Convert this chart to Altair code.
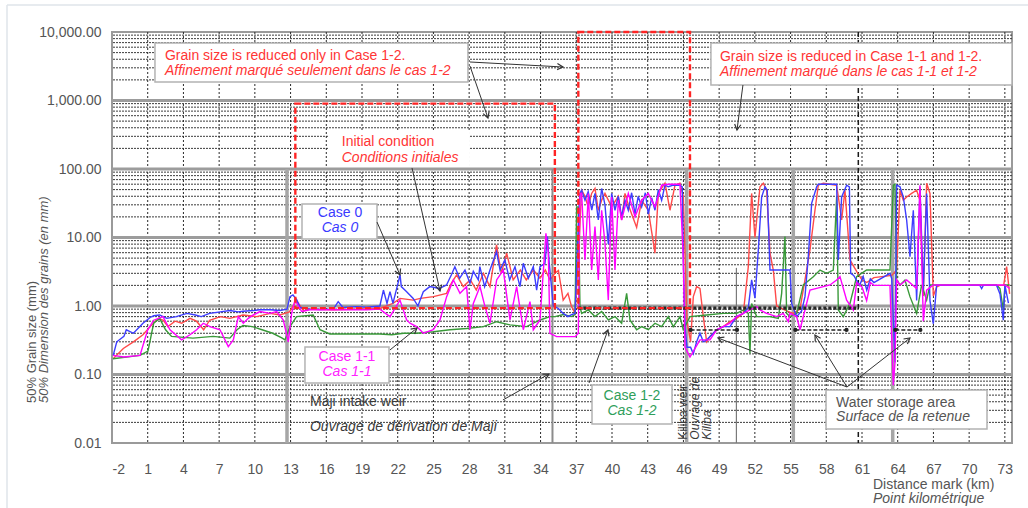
import math
import altair as alt
import pandas as pd

# ---------------------------------------------------------------- layout
PLOT_W, PLOT_H = 900, 411
KM_MIN, KM_MAX = -2.0, 73.6
D_MIN, D_MAX = 0.01, 10000.0
FONT = "Liberation Sans"

LINE_RED, LINE_BLUE, LINE_MAGENTA, LINE_GREEN = "#ff4a4a", "#3d3dff", "#ff00ff", "#399939"
TXT_RED, TXT_BLUE, TXT_MAGENTA, TXT_GREEN, TXT_GRAY = "#ff3535", "#3a3aff", "#ff22ff", "#2f9e5a", "#555555"

# ---------------------------------------------------------------- series: (distance mark km, 50% grain size mm)
initial = [(-1.9, 0.17), (-1.05, 0.24), (-0.2, 0.30), (0.6, 0.38), (1.2, 0.50), (1.9, 0.66), (2.3, 0.62),
           (2.7, 0.50), (3.3, 0.60), (3.85, 0.56), (4.55, 0.66), (5.1, 0.60), (5.7, 0.45), (6.2, 0.62),
           (7.1, 0.70), (7.9, 0.66), (9.0, 0.74), (10.15, 0.70), (11.3, 0.78), (12.1, 0.74), (12.9, 0.82),
           (13.5, 1.2), (14.1, 0.85), (14.6, 0.90), (16.6, 0.88), (18.5, 0.90), (20.5, 0.92), (21.6, 1.09),
           (22.2, 1.29), (23.3, 1.22), (23.9, 1.29), (25.0, 1.37), (26.1, 1.53), (26.5, 2.14), (26.95, 2.84),
           (27.5, 1.92), (28.1, 2.4), (28.6, 1.71), (29.2, 3.0), (29.75, 1.92), (30.3, 7.8), (30.7, 3.0),
           (31.15, 5.9), (31.7, 2.4), (32.3, 3.35), (32.8, 2.4), (33.4, 3.35), (33.95, 2.54), (34.4, 3.35),
           (34.8, 2.4), (35.2, 3.0), (35.5, 3.3), (35.9, 1.22), (36.3, 1.53), (36.6, 0.98), (36.9, 0.78),
           (37.17, 5.0), (37.45, 49), (37.73, 40), (38.0, 28), (38.29, 44), (38.57, 52), (38.85, 25),
           (39.13, 35), (39.41, 44), (39.97, 28), (40.53, 40), (40.81, 18), (41.09, 44), (41.37, 30),
           (41.65, 22), (42.07, 14), (42.49, 35), (43.05, 25), (43.61, 5.9), (43.89, 44), (44.45, 62),
           (44.87, 25), (45.29, 58), (45.71, 62), (45.99, 40), (46.3, 0.6), (46.6, 0.3), (46.83, 1.37),
           (47.11, 1.92), (47.39, 1.81), (47.67, 0.70), (47.95, 0.30), (48.23, 0.36), (48.79, 0.45),
           (49.35, 0.50), (49.91, 0.59), (50.47, 0.66), (51.03, 0.78), (51.45, 3.75), (51.73, 44),
           (52.01, 10), (52.43, 55), (52.71, 62), (52.99, 49), (53.27, 5.9), (53.55, 3.35), (53.83, 1.0),
           (54.67, 0.85), (55.23, 0.78), (55.79, 0.9), (56.35, 3.35), (56.63, 6.6), (57.05, 25), (57.33, 58),
           (57.75, 62), (58.87, 58), (59.29, 18), (59.57, 49), (59.99, 4.7), (60.55, 3.2), (61.0, 2.4),
           (61.4, 2.2), (62.0, 2.6), (63.5, 2.8), (63.91, 3.35), (64.19, 49), (64.47, 35), (64.75, 39),
           (65.17, 44), (65.59, 49), (65.87, 35), (66.15, 1.4), (66.43, 62), (66.71, 44), (66.99, 1.4),
           (67.27, 1.9), (67.55, 2.0), (72.9, 2.0), (73.15, 3.75), (73.4, 1.5)]

case_1_2 = [(-1.92, 0.17), (0.35, 0.19), (1.02, 0.22), (1.5, 0.56), (2.0, 0.66), (2.5, 0.45), (3.0, 0.36),
            (4.8, 0.34), (6.5, 0.36), (7.9, 0.34), (8.5, 0.45), (9.0, 0.52), (9.8, 0.50), (10.6, 0.45),
            (11.5, 0.40), (12.3, 0.34), (12.53, 0.32), (12.95, 0.50), (13.5, 0.70), (14.9, 0.74), (15.47, 0.45),
            (16.3, 0.39), (17.5, 0.39), (19.4, 0.39), (20.5, 0.39), (21.5, 0.38), (22.5, 0.40), (23.59, 0.40),
            (24.99, 0.42), (26.39, 0.45), (27.79, 0.47), (29.19, 0.50), (30.31, 0.59), (31.43, 0.53),
            (32.83, 0.50), (33.95, 0.625), (34.79, 0.70), (35.21, 0.70), (35.91, 0.75), (36.61, 0.70),
            (36.89, 0.75), (37.03, 28), (37.17, 28), (37.31, 0.98), (37.45, 0.78), (38.01, 0.875), (38.57, 0.70),
            (39.13, 0.83), (39.69, 0.625), (40.25, 0.70), (40.81, 0.56), (41.23, 1.53), (41.51, 0.625),
            (42.07, 0.45), (42.49, 0.50), (43.05, 0.45), (43.61, 0.56), (44.17, 0.50), (44.73, 0.70),
            (45.15, 0.50), (45.71, 0.70), (45.99, 0.45), (46.55, 0.70), (47.95, 0.74), (49.35, 0.78),
            (50.47, 0.78), (51.03, 0.875), (51.45, 0.78), (51.59, 0.204), (51.73, 1.09), (52.15, 0.70),
            (53.27, 0.70), (53.97, 0.66), (54.25, 1.53), (54.53, 10.3), (54.67, 0.78), (54.95, 0.70),
            (55.51, 0.78), (56.07, 2.03), (56.91, 2.68), (57.47, 3.35), (58.03, 3.0), (58.59, 3.35),
            (58.87, 39), (59.01, 0.875), (59.43, 0.70), (59.99, 1.09), (60.55, 2.68), (61.39, 3.35),
            (63.35, 3.35), (63.63, 58), (63.77, 60), (63.91, 2.4), (64.19, 2.03), (64.61, 2.4), (65.03, 1.37),
            (65.59, 0.78), (66.01, 2.03), (66.43, 1.22), (66.71, 2.03), (67.27, 2.03), (72.31, 2.03),
            (72.59, 1.8), (72.87, 0.875), (73.01, 2.03), (73.4, 2.03)]

case_0 = [(-1.9, 0.19), (-1.6, 0.30), (-1.0, 0.36), (-0.8, 0.45), (-0.2, 0.40), (0.6, 0.56), (1.2, 0.68),
          (1.5, 0.72), (2.0, 0.74), (2.6, 0.66), (3.4, 0.70), (4.3, 0.78), (5.0, 0.74), (5.5, 0.70),
          (6.2, 0.78), (7.1, 0.82), (7.9, 0.86), (8.6, 0.82), (9.0, 0.84), (9.9, 0.86), (10.4, 0.88),
          (11.3, 0.88), (12.1, 0.86), (12.7, 0.90), (12.95, 1.37), (13.2, 1.45), (13.5, 1.25), (13.8, 0.95),
          (14.6, 0.90), (15.5, 0.89), (16.6, 0.90), (17.0, 1.16), (17.4, 0.95), (18.5, 0.98), (19.4, 0.96),
          (20.5, 1.0), (20.8, 1.71), (21.1, 1.09), (21.35, 1.62), (21.6, 1.09), (22.2, 2.84), (22.3, 1.92),
          (22.75, 1.62), (23.3, 1.29), (23.7, 1.0), (24.15, 1.62), (24.7, 1.92), (25.5, 1.80), (26.1, 2.03),
          (26.5, 2.84), (26.8, 3.75), (27.2, 2.54), (27.65, 3.35), (28.07, 2.14), (28.35, 3.2), (28.77, 2.4),
          (28.9, 3.75), (29.3, 1.92), (29.75, 3.35), (30.3, 6.2), (30.6, 3.35), (31.0, 4.7), (31.4, 2.4),
          (31.85, 3.75), (32.27, 1.92), (32.55, 4.2), (32.97, 2.54), (33.39, 3.75), (33.67, 1.71),
          (33.95, 3.75), (34.37, 4.2), (34.57, 10.3), (34.73, 4.2), (35.07, 1.0), (35.5, 0.92), (35.9, 0.78),
          (36.3, 0.70), (36.6, 0.75), (36.9, 0.78), (37.1, 8.0), (37.3, 44), (37.45, 49), (37.73, 35),
          (38.0, 46.7), (38.3, 25), (38.57, 44), (38.85, 18), (39.13, 52), (39.41, 30), (39.69, 8),
          (39.97, 44), (40.25, 25), (40.53, 40), (40.81, 20), (41.09, 35), (41.37, 25), (41.65, 45),
          (41.93, 22), (42.2, 40), (42.49, 28), (42.8, 45), (43.05, 22), (43.33, 38), (43.61, 25),
          (43.89, 50), (44.17, 35), (44.45, 58), (44.73, 55), (45.15, 58), (45.71, 58), (45.9, 55),
          (46.0, 4.0), (46.13, 0.5), (46.3, 0.25), (46.6, 0.25), (46.83, 0.20), (47.11, 0.30), (47.39, 0.40),
          (47.67, 0.30), (47.95, 0.32), (48.23, 0.36), (48.79, 0.45), (49.35, 0.50), (49.91, 0.50),
          (50.47, 0.70), (51.03, 0.78), (51.45, 0.95), (51.73, 2.4), (52.01, 1.3), (52.29, 6.6), (52.57, 39),
          (52.85, 55), (53.04, 49), (53.27, 3.35), (54.95, 3.35), (55.09, 1.09), (55.51, 0.70), (55.93, 0.85),
          (56.21, 1.37), (56.49, 5.25), (56.77, 31.5), (57.19, 55), (57.33, 60), (58.87, 60), (59.01, 4.7),
          (59.29, 39), (59.71, 58), (59.94, 55), (60.05, 3.0), (60.3, 2.8), (60.8, 2.0), (61.1, 2.7),
          (61.4, 1.7), (61.7, 2.5), (62.0, 2.2), (63.35, 3.0), (63.5, 2.5), (63.77, 0.15), (63.91, 58),
          (64.19, 55), (64.47, 39), (64.75, 18), (65.03, 5.25), (65.31, 25), (65.59, 1.2), (65.87, 55),
          (66.15, 1.7), (66.43, 44), (66.71, 1.2), (66.99, 0.55), (67.27, 2.0), (70.9, 2.0), (71.05, 1.8),
          (71.19, 2.0), (72.31, 2.0), (72.59, 1.5), (72.87, 0.62), (73.01, 2.0), (73.3, 1.1)]

case_1_1 = [(-1.92, 0.19), (-1.0, 0.18), (0.35, 0.19), (1.0, 0.45), (1.5, 0.62), (2.28, 0.70), (2.87, 0.45),
            (3.85, 0.32), (4.55, 0.38), (5.11, 0.45), (5.67, 0.56), (6.23, 0.50), (7.07, 0.45), (7.77, 0.255),
            (8.19, 0.32), (8.61, 0.70), (9.03, 0.56), (9.45, 0.66), (9.87, 0.74), (10.43, 0.83), (11.27, 0.78),
            (11.83, 0.83), (12.39, 0.625), (12.81, 0.30), (13.09, 0.78), (13.37, 1.22), (13.93, 0.83),
            (14.63, 0.88), (16.6, 0.88), (19.4, 0.88), (20.5, 0.90), (21.35, 0.70), (22.19, 1.22),
            (22.75, 0.625), (23.03, 0.56), (23.59, 0.50), (23.87, 0.45), (24.15, 0.40), (24.99, 0.45),
            (25.55, 0.625), (26.11, 1.37), (26.67, 2.40), (27.23, 1.53), (27.79, 1.92), (28.07, 0.45),
            (28.35, 1.09), (28.91, 1.92), (29.33, 0.98), (29.75, 0.56), (30.31, 2.40), (30.87, 3.35),
            (31.43, 0.625), (31.99, 1.92), (32.55, 0.45), (33.11, 1.16), (33.39, 0.45), (33.95, 0.625),
            (34.45, 11.5), (34.65, 5.9), (34.79, 0.40), (35.35, 0.357), (36.3, 0.357), (36.9, 0.357),
            (37.17, 0.40), (37.31, 44), (37.45, 44), (37.73, 4.7), (38.01, 44), (38.29, 3.35), (38.57, 14.4),
            (38.85, 2.4), (39.13, 25), (39.41, 8.2), (39.69, 1.22), (39.97, 39), (40.25, 3.35), (40.53, 35),
            (40.81, 18), (41.37, 44), (41.93, 20), (42.49, 35), (43.05, 44), (43.61, 28), (44.17, 58),
            (44.73, 60), (45.71, 60), (45.99, 4.7), (46.13, 0.25), (46.55, 0.18), (47.39, 0.32), (48.23, 0.32),
            (48.79, 0.45), (49.91, 0.56), (50.47, 0.70), (51.03, 0.78), (51.59, 0.875), (52.15, 0.98),
            (52.43, 0.875), (52.99, 0.78), (53.83, 0.70), (54.39, 0.78), (54.81, 0.59), (54.95, 0.78),
            (55.51, 0.70), (55.79, 0.45), (56.21, 0.875), (56.63, 1.71), (57.19, 1.81), (58.31, 2.03),
            (58.87, 2.40), (59.15, 2.68), (59.71, 1.22), (60.27, 0.875), (60.55, 2.2), (61.0, 1.9),
            (61.39, 1.2), (61.7, 2.2), (62.0, 2.0), (63.35, 2.0), (63.63, 0.07), (63.77, 0.15), (63.91, 2.4),
            (64.19, 2.03), (64.75, 2.4), (65.59, 1.8), (65.87, 58), (66.15, 0.6), (66.43, 1.7), (66.99, 2.03),
            (73.0, 2.03), (73.4, 1.8)]

# ---------------------------------------------------------------- axes and grid values
x_tick_values = list(range(-2, 74, 3))
x_grid_km = list(range(1, 74, 3))
y_decades = [0.01, 0.1, 1, 10, 100, 1000, 10000]
y_inner_decades = [0.1, 1, 10, 100, 1000]
y_minor = [k * 10.0 ** e for e in range(-2, 4) for k in range(2, 10)]

# structures drawn as vertical bars: km, bottom, top, width, colour
structures = [(12.7, 0.01, 100, 3.5, "#a6a6a6"), (35.0, 0.01, 100, 2.0, "#8c8c8c"),
              (46.27, 0.01, 100, 3.5, "#a6a6a6"), (55.23, 0.01, 100, 3.5, "#a6a6a6"),
              (63.58, 0.01, 100, 3.5, "#a6a6a6"), (50.45, 0.01, 3.6, 1.2, "#7a7a7a")]

# zones where grain size is reduced (red dashed frames): km from, km to, d50 bottom, d50 top
reduced_zones = [(13.4, 35.2, 0.93, 900), (37.17, 46.55, 0.93, 10000)]

# water storage reaches at their marked level
storage_reaches = [(46.6, 50.5), (55.4, 59.7), (63.8, 65.9)]
storage_level = 0.447

# annotation boxes: km from, km to, d50 top, d50 bottom
boxes = [(1.61, 27.9, 6905, 1862), (48.31, 73.6, 6905, 1683), (13.96, 20.26, 30.8, 9.5),
         (14.21, 21.27, 0.252, 0.0752), (38.32, 45.04, 0.0703, 0.0189), (57.98, 71.5, 0.0594, 0.016)]
initial_patch = (16.14, 28.07, 359, 107)

labels = [
    ("Grain size is reduced only in Case 1-2.", 2.45, 4463, TXT_RED, "normal", "left"),
    ("Affinement marqué seulement dans le cas 1-2", 2.45, 2697, TXT_RED, "italic", "left"),
    ("Grain size is reduced in Case 1-1 and 1-2.", 49.07, 4315, TXT_RED, "normal", "left"),
    ("Affinement marqué dans le cas 1-1 et 1-2", 49.07, 2606, TXT_RED, "italic", "left"),
    ("Initial condition", 17.3, 245, TXT_RED, "normal", "left"),
    ("Conditions initiales", 17.3, 145, TXT_RED, "italic", "left"),
    ("Case 0", 17.15, 22.8, TXT_BLUE, "normal", "center"),
    ("Cas 0", 17.15, 13.8, TXT_BLUE, "italic", "center"),
    ("Case 1-1", 17.74, 0.18, TXT_MAGENTA, "normal", "center"),
    ("Cas 1-1", 17.74, 0.1088, TXT_MAGENTA, "italic", "center"),
    ("Case 1-2", 41.68, 0.0485, TXT_GREEN, "normal", "center"),
    ("Cas 1-2", 41.68, 0.0293, TXT_GREEN, "italic", "center"),
    ("Maji intake weir", 14.63, 0.0397, "#3a3a3a", "normal", "left"),
    ("Ouvrage de dérivation de Maji", 14.63, 0.01714, "#3a3a3a", "italic", "left"),
    ("Water storage area", 58.82, 0.0384, TXT_GRAY, "normal", "left"),
    ("Surface de la retenue", 58.82, 0.024, TXT_GRAY, "italic", "left"),
]

# upright labels of the weir at the head of the reservoir (km, d50 at text start, text, style)
weir_labels = [(46.0, 0.0112, "Kiliba weir", "normal"), (47.0, 0.0112, "Ouvrage de", "italic"),
               (48.0, 0.0112, "Kiliba", "italic")]

# leader arrows: (km, d50) tail -> (km, d50) head
arrows = [((28.07, 3648), (35.88, 3084)), ((28.07, 3190), (29.58, 556)),
          ((51.0, 1683), (50.5, 371)), ((23.2, 103.5), (25.55, 1.66)),
          ((20.26, 16.8), (22.19, 2.84)), ((21.35, 0.228), (23.62, 0.477)),
          ((38.07, 0.0752), (39.66, 0.447)), ((30.84, 0.0425), (34.7, 0.1016)),
          ((59.74, 0.0657), (48.9, 0.341)), ((59.74, 0.0657), (57.05, 0.377)),
          ((59.74, 0.0657), (65.03, 0.341))]


# ---------------------------------------------------------------- helpers
def px(km):
    return (km - KM_MIN) / (KM_MAX - KM_MIN) * PLOT_W


def py(d):
    lo, hi = math.log10(D_MIN), math.log10(D_MAX)
    return (hi - math.log10(d)) / (hi - lo) * PLOT_H


x_scale = alt.Scale(domain=[KM_MIN, KM_MAX], nice=False, zero=False)
y_scale = alt.Scale(type="log", domain=[D_MIN, D_MAX], nice=False)
x_axis = alt.Axis(values=x_tick_values, ticks=False, domain=False, grid=False, labelPadding=19,
                  labelExpr="datum.value < 0 ? '-' + abs(datum.value) : datum.label",
                  labelFontSize=14, labelFont=FONT, labelColor="#555555", title=None)
y_axis = alt.Axis(values=y_decades, format=",.2f", ticks=False, domain=False, grid=False, labelPadding=11,
                  labelFontSize=14, labelFont=FONT, labelColor="#555555", title=None)


def X(field="km"):
    return alt.X(f"{field}:Q", scale=x_scale, axis=x_axis)


def Y(field="d50"):
    return alt.Y(f"{field}:Q", scale=y_scale, axis=y_axis)


layers = []

# grid: fine dotted lines, then the heavier decade lines
layers.append(
    alt.Chart(pd.DataFrame({"d50": y_minor}))
    .mark_rule(color="#3c3c3c", strokeWidth=1, strokeDash=[2, 1])
    .encode(y=Y())
)
layers.append(
    alt.Chart(pd.DataFrame({"km": x_grid_km}))
    .mark_rule(color="#2a2a2a", strokeWidth=1, strokeDash=[2, 2])
    .encode(x=X())
)
layers.append(
    alt.Chart(pd.DataFrame({"d50": y_inner_decades}))
    .mark_rule(color="#9c9c9c", strokeWidth=3)
    .encode(y=Y())
)

# structures along the river
for km, lo, hi, w, col in structures:
    layers.append(
        alt.Chart(pd.DataFrame({"km": [km], "lo": [lo], "hi": [hi]}))
        .mark_rule(color=col, strokeWidth=w)
        .encode(x=X(), y=Y("lo"), y2="hi:Q")
    )
layers.append(
    alt.Chart(pd.DataFrame({"km": [60.69]}))
    .mark_rule(color="#1a1a1a", strokeWidth=1.5, strokeDash=[5, 3])
    .encode(x=X())
)

# simulated grain size profiles
for pts, col in [(initial, LINE_RED), (case_1_2, LINE_GREEN), (case_0, LINE_BLUE), (case_1_1, LINE_MAGENTA)]:
    df = pd.DataFrame(pts, columns=["km", "d50"])
    layers.append(
        alt.Chart(df).mark_line(color=col, strokeWidth=1.4, interpolate="linear")
        .encode(x=X(), y=Y(), order="km:Q")
    )

# level line across the reservoir reaches
layers.append(
    alt.Chart(pd.DataFrame({"km": [37.17], "km2": [60.7], "d50": [0.93]}))
    .mark_rule(color="#262626", strokeWidth=3.2, strokeDash=[3, 2])
    .encode(x=X(), x2="km2:Q", y=Y())
)

# red dashed frames
zones = pd.DataFrame(reduced_zones, columns=["km", "km2", "d50", "d502"])
layers.append(
    alt.Chart(zones)
    .mark_rect(fillOpacity=0, stroke="#ff2424", strokeWidth=2.4, strokeDash=[6, 3])
    .encode(x=X(), x2="km2:Q", y=Y(), y2="d502:Q")
)

# water storage reaches
st = pd.DataFrame([(a, b, storage_level) for a, b in storage_reaches], columns=["km", "km2", "d50"])
layers.append(
    alt.Chart(st).mark_rule(color="#222222", strokeWidth=1.5, strokeDash=[4, 2])
    .encode(x=X(), x2="km2:Q", y=Y())
)
ends = pd.DataFrame([(k, storage_level) for a, b in storage_reaches for k in (a, b)], columns=["km", "d50"])
layers.append(
    alt.Chart(ends).mark_point(filled=True, color="#222222", size=18, opacity=1)
    .encode(x=X(), y=Y())
)

# annotation boxes
bx = pd.DataFrame(boxes, columns=["km", "km2", "d50", "d502"])
layers.append(
    alt.Chart(bx).mark_rect(fill="white", stroke="#b3b3b3", strokeWidth=1.5)
    .encode(x=X(), x2="km2:Q", y=Y(), y2="d502:Q")
)
layers.append(
    alt.Chart(pd.DataFrame([initial_patch], columns=["km", "km2", "d50", "d502"]))
    .mark_rect(fill="white")
    .encode(x=X(), x2="km2:Q", y=Y(), y2="d502:Q")
)

# leader arrows
arr_rows = []
for (k1, d1), (k2, d2) in arrows:
    ang = math.degrees(math.atan2(px(k2) - px(k1), -(py(d2) - py(d1)))) % 360
    arr_rows.append({"km": k1, "d50": d1, "km2": k2, "d502": d2, "ang": ang})
arr = pd.DataFrame(arr_rows)
layers.append(
    alt.Chart(arr).mark_rule(color="#333333", strokeWidth=1)
    .encode(x=X(), x2="km2:Q", y=Y(), y2="d502:Q")
)
layers.append(
    alt.Chart(arr).mark_point(shape="M -0.55 1 L 0 0 L 0.55 1", filled=False, color="#333333",
                              strokeWidth=1.2, size=130, opacity=1)
    .encode(x=X("km2"), y=Y("d502"), angle=alt.Angle("ang:Q", scale=None))
)

# annotation texts
for text, km, d, col, style, align in labels:
    layers.append(
        alt.Chart(pd.DataFrame({"km": [km], "d50": [d]}))
        .mark_text(text=text, font=FONT, fontSize=14, color=col, fontStyle=style, align=align,
                   baseline="middle")
        .encode(x=X(), y=Y())
    )
for km, d, text, style in weir_labels:
    layers.append(
        alt.Chart(pd.DataFrame({"km": [km], "d50": [d]}))
        .mark_text(text=text, font=FONT, fontSize=12, color="#3a3a3a", fontStyle=style, angle=270,
                   align="left", baseline="middle")
        .encode(x=X(), y=Y())
    )

# axis titles
one = pd.DataFrame({"k": [0]})
for text, x, style in [("50% Grain size (mm)", -80, "normal"), ("50% Dimension des grains (en mm)", -68, "italic")]:
    layers.append(
        alt.Chart(one).mark_text(text=text, font=FONT, fontSize=13, color="#555555", fontStyle=style,
                                 angle=270, align="left", baseline="middle")
        .encode(x=alt.value(x), y=alt.value(371))
    )
for text, y, style in [("Distance mark  (km)", 453, "normal"), ("Point kilométrique", 467, "italic")]:
    layers.append(
        alt.Chart(one).mark_text(text=text, font=FONT, fontSize=14, color="#555555", fontStyle=style,
                                 align="left", baseline="middle")
        .encode(x=alt.value(761), y=alt.value(y))
    )

# light frame of the figure
layers.append(
    alt.Chart(one).mark_rule(color="#dfe4ea", strokeWidth=1.5)
    .encode(x=alt.value(-105), x2=alt.value(916), y=alt.value(-27))
)
layers.append(
    alt.Chart(one).mark_rule(color="#dfe4ea", strokeWidth=1.5)
    .encode(x=alt.value(-105), y=alt.value(-27), y2=alt.value(476))
)

chart = (
    alt.layer(*layers)
    .properties(width=PLOT_W, height=PLOT_H, background="white",
                autosize=alt.AutoSizeParams(type="none"),
                padding={"left": 112, "top": 32, "right": 16, "bottom": 65})
    .configure_view(stroke="#9a9a9a", strokeWidth=2)
)

chart.save("out.html", embed_options={"renderer": "svg", "actions": False})
